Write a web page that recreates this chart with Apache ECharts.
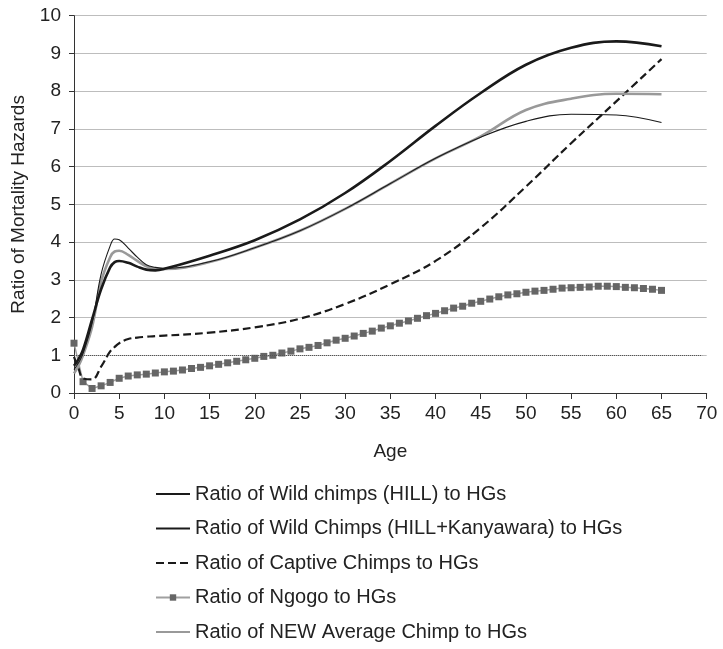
<!DOCTYPE html>
<html>
<head>
<meta charset="utf-8">
<script src="https://cdn.jsdelivr.net/npm/echarts@6/dist/echarts.min.js"></script>
<style>html,body{margin:0;padding:0;background:#fff;}#c{width:723px;height:649px;}</style>
</head>
<body>
<div id="c"></div>
<script>
// Ages at which the smooth curves are sampled
const ages = [0, 0.5, 1, 2, 3, 4, 4.5, 5, 6, 7, 8, 9, 10, 15, 20, 25, 30, 35, 40, 45, 50, 55, 60, 65];
const wildHill      = [0.72, 0.9, 1.15, 1.95, 2.75, 3.33, 3.47, 3.5, 3.45, 3.35, 3.27, 3.25, 3.29, 3.64, 4.05, 4.6, 5.3, 6.15, 7.08, 7.95, 8.7, 9.15, 9.32, 9.19];
const wildHillKany  = [0.62, 0.8, 1.05, 1.85, 3.15, 3.9, 4.08, 4.06, 3.84, 3.6, 3.4, 3.33, 3.3, 3.48, 3.85, 4.3, 4.88, 5.55, 6.22, 6.78, 7.2, 7.39, 7.37, 7.17];
const captive       = [0.96, 0.65, 0.39, 0.36, 0.7, 1.1, 1.22, 1.32, 1.43, 1.47, 1.49, 1.51, 1.52, 1.6, 1.74, 1.97, 2.36, 2.88, 3.5, 4.38, 5.47, 6.62, 7.73, 8.85];
const newAverage    = [0.52, 0.72, 1.0, 1.75, 2.95, 3.6, 3.75, 3.77, 3.66, 3.5, 3.36, 3.3, 3.29, 3.47, 3.85, 4.3, 4.88, 5.55, 6.22, 6.8, 7.5, 7.8, 7.93, 7.92];
// Ngogo values, one per year of age 0..65
const ngogoAges = Array.from({length: 66}, (_, i) => i);
const ngogo = [1.32, 0.30, 0.12, 0.19, 0.28, 0.39, 0.45, 0.48, 0.50, 0.53,
               0.56, 0.58, 0.61, 0.65, 0.68, 0.72, 0.76, 0.80, 0.84, 0.88,
               0.92, 0.97, 1.00, 1.06, 1.11, 1.17, 1.21, 1.26, 1.33, 1.40,
               1.45, 1.51, 1.58, 1.64, 1.72, 1.78, 1.85, 1.91, 1.98, 2.05,
               2.11, 2.18, 2.25, 2.30, 2.38, 2.43, 2.49, 2.55, 2.60, 2.63,
               2.67, 2.70, 2.72, 2.75, 2.78, 2.79, 2.80, 2.81, 2.83, 2.83,
               2.82, 2.80, 2.79, 2.77, 2.75, 2.72];
// Reference line (ratio = 1)
const refLineX = [0, 69.5];
const refLineY = 1;

const seriesNames = [
  'Ratio of Wild chimps (HILL) to HGs',
  'Ratio of Wild Chimps (HILL+Kanyawara) to HGs',
  'Ratio of Captive Chimps to HGs',
  'Ratio of Ngogo to HGs',
  'Ratio of NEW Average Chimp to HGs'
];

const pairs = (xs, ys) => xs.map((x, i) => [x, ys[i]]);
const txt = '#222';
const font = 'Liberation Sans, Arial, sans-serif';
const hideSym = {color: 'rgba(0,0,0,0)', opacity: 0, borderWidth: 0};

const chart = echarts.init(document.getElementById('c'), null, {renderer: 'canvas'});
chart.setOption({
  animation: false,
  backgroundColor: '#fff',
  textStyle: {fontFamily: font},
  grid: {left: 74, right: 16.3, top: 15.7, bottom: 256},
  xAxis: {
    type: 'value', min: 0, max: 70, interval: 5,
    name: 'Age', nameLocation: 'middle', nameGap: 49,
    nameTextStyle: {color: txt, fontSize: 19, fontFamily: font},
    axisLine: {show: true, lineStyle: {color: '#333', width: 1}},
    axisTick: {show: true, length: 6, lineStyle: {color: '#333'}},
    axisLabel: {color: txt, fontSize: 19, margin: 11, fontFamily: font},
    splitLine: {show: false}
  },
  yAxis: {
    type: 'value', min: 0, max: 10, interval: 1,
    name: 'Ratio of Mortality Hazards', nameLocation: 'middle', nameGap: 46,
    nameTextStyle: {color: txt, fontSize: 19, fontFamily: font},
    axisLine: {show: true, lineStyle: {color: '#333', width: 1}},
    axisTick: {show: true, length: 5, lineStyle: {color: '#333'}},
    axisLabel: {color: txt, fontSize: 19, margin: 13, fontFamily: font},
    splitLine: {show: true, lineStyle: {color: '#bdbdbd', width: 1.2}}
  },
  legend: {
    orient: 'vertical', left: 155, top: 484, height: 200, padding: 0,
    itemWidth: 34, itemHeight: 8, itemGap: 14.5,
    textStyle: {color: txt, fontSize: 20, lineHeight: 20, fontFamily: font},
    data: [
      {name: seriesNames[0], itemStyle: hideSym},
      {name: seriesNames[1], itemStyle: hideSym},
      {name: seriesNames[2], itemStyle: hideSym},
      {name: seriesNames[3]},
      {name: seriesNames[4], itemStyle: hideSym}
    ]
  },
  series: [
    {
      name: seriesNames[0], type: 'line', data: pairs(ages, wildHill),
      smooth: 0.4, symbol: 'none', lineStyle: {color: '#1a1a1a', width: 2.6},
      itemStyle: {color: '#1a1a1a'}, z: 5,
      markLine: {
        silent: true, symbol: 'none', label: {show: false},
        lineStyle: {color: '#555', type: [1, 1], width: 1.2},
        data: [[{coord: [refLineX[0], refLineY]}, {coord: [refLineX[1], refLineY]}]]
      }
    },
    {
      name: seriesNames[1], type: 'line', data: pairs(ages, wildHillKany),
      smooth: 0.4, symbol: 'none', lineStyle: {color: '#1a1a1a', width: 1.1},
      itemStyle: {color: '#1a1a1a'}, z: 6
    },
    {
      name: seriesNames[2], type: 'line', data: pairs(ages, captive),
      smooth: 0.4, symbol: 'none', lineStyle: {color: '#1a1a1a', width: 2.2, type: [8, 4]},
      itemStyle: {color: '#1a1a1a'}, z: 4
    },
    {
      name: seriesNames[3], type: 'line', data: pairs(ngogoAges, ngogo),
      smooth: false, symbol: 'rect', symbolSize: 7, showSymbol: true,
      lineStyle: {color: '#a0a0a0', width: 1.5},
      itemStyle: {color: '#666'}, z: 3
    },
    {
      name: seriesNames[4], type: 'line', data: pairs(ages, newAverage),
      smooth: 0.4, symbol: 'none', lineStyle: {color: '#999', width: 2.6},
      itemStyle: {color: '#999'}, z: 4
    }
  ]
});
</script>
</body>
</html>
